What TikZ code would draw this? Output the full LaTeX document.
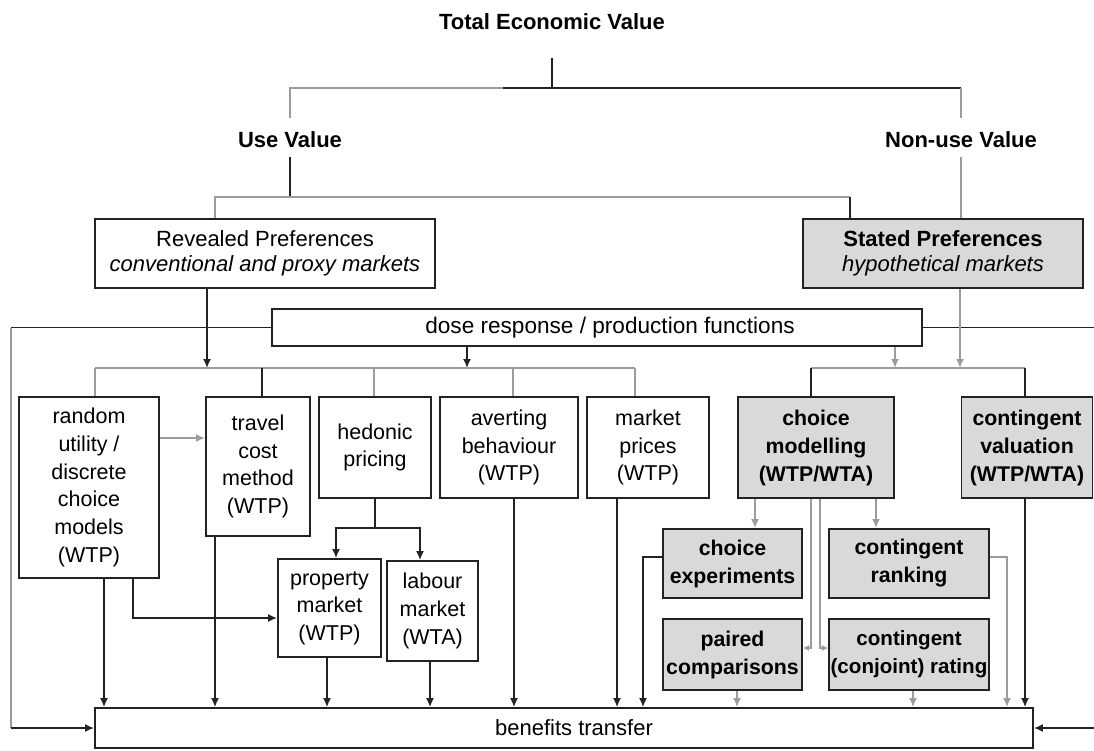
\documentclass[tikz,border=0pt]{standalone}
\usepackage{fontspec}
\setmainfont{Liberation Sans}
\usetikzlibrary{arrows.meta}
\definecolor{lineblack}{HTML}{222222}
\definecolor{linegray}{HTML}{9C9C9C}
\definecolor{spfill}{HTML}{D9D9D9}
\tikzset{
  hd/.style={inner sep=0pt, font=\fontsize{22}{26}\selectfont\bfseries},
  box/.style={draw=lineblack, line width=1.8pt, fill=white, inner sep=0pt, align=center,
    font=\fontsize{21.5}{27.7}\selectfont},
  gbox/.style={box, fill=spfill, font=\fontsize{21.3}{28}\selectfont\bfseries},
  conn/.style={draw=lineblack, line width=1.6pt},
  gconn/.style={draw=linegray, line width=2pt},
  arr/.style={-{Latex[length=9pt,width=8pt]}},
}
\begin{document}
\begin{tikzpicture}[x=1pt,y=-1pt]
\useasboundingbox (0,0) rectangle (1094,750);
% headings
\node[hd] (tev) at (552,22) {Total Economic Value};
\node[hd] (uv) at (290,140) {Use Value};
\node[hd] (nuv) at (961,140) {Non-use Value};
% boxes
\node[box, minimum width=340pt, minimum height=69pt, font=\fontsize{22}{25}\selectfont] (rp) at (265,253.5) {Revealed Preferences\\\textit{conventional and proxy markets}};
\node[gbox, minimum width=280pt, minimum height=69pt, font=\fontsize{22}{25}\selectfont] (sp) at (943,253.5) {\textbf{Stated Preferences}\\\textit{hypothetical markets}};
\node[box, minimum width=650pt, minimum height=37pt, font=\fontsize{22.6}{26}\selectfont] (dose) at (597,327.5) {\hspace*{26pt}dose response / production functions};
\node[box, minimum width=140pt, minimum height=181pt] (ru) at (89,487.5) {random\\utility /\\discrete\\choice\\models\\(WTP)};
\node[box, minimum width=104pt, minimum height=139pt] (tc) at (258,466.5) {travel\\cost\\method\\(WTP)};
\node[box, minimum width=112pt, minimum height=101pt] (hp) at (375,447.5) {hedonic\\pricing};
\node[box, minimum width=138pt, minimum height=101pt] (ab) at (509,447.5) {averting\\behaviour\\(WTP)};
\node[box, minimum width=122pt, minimum height=101pt] (mp) at (648,447.5) {market\\prices\\(WTP)};
\node[gbox, minimum width=156pt, minimum height=101pt] (cm) at (816,447.5) {choice\\modelling\\(WTP/WTA)};
\node[gbox, minimum width=131pt, minimum height=101pt] (cv) at (1027,447.5) {contingent\\valuation\\(WTP/WTA)};
\node[box, minimum width=103pt, minimum height=98pt] (pm) at (329.5,608) {property\\market\\(WTP)};
\node[box, minimum width=91pt, minimum height=100pt] (lm) at (432.5,611) {labour\\market\\(WTA)};
\node[gbox, minimum width=139pt, minimum height=69pt] (ce) at (732.5,563.5) {choice\\experiments};
\node[gbox, minimum width=160pt, minimum height=69pt] (cr) at (909,563.5) {contingent\\ranking};
\node[gbox, minimum width=139pt, minimum height=71pt] (pc) at (732.5,654.5) {paired\\comparisons};
\node[gbox, minimum width=160pt, minimum height=71pt, font=\fontsize{20.6}{28}\selectfont\bfseries] (crat) at (909,654.5) {contingent\\(conjoint) rating};
\node[box, minimum width=938pt, minimum height=40pt, font=\fontsize{22}{26}\selectfont] (bt) at (564,728) {\hspace*{20pt}benefits transfer};
% top tree
\draw[draw=lineblack, line width=1.1pt] (tev.south |- 0,58) -- (tev.south |- 0,88);
\draw[gconn] (uv.south |- 0,118) -- (uv.south |- 0,88) -- (503,88);
\draw[conn] (503,88) -- (nuv.south |- 0,88);
\draw[gconn] (nuv.south |- 0,88) -- (nuv.south |- 0,118);
\draw[draw=lineblack, line width=1.1pt] (uv.south |- 0,157) -- (uv.south |- 0,197);
\draw[gconn] (rp.north -| 215,0) -- (215,197) -- (850,197);
\draw[conn] (850,197) -- (sp.north -| 850,0);
\draw[gconn] (nuv.south |- 0,157) -- (sp.north -| nuv.south);
% dose response side lines
\draw[conn] (dose.west) -- (11,327.5);
\draw[gconn] (11,327.5) -- (11,728);
\draw[conn,arr] (11,728) -- (bt.west);
\draw[conn] (dose.east) -- (1094,327.5);
\draw[conn,arr] (1094,728) -- (bt.east);
% left bus
\draw[conn,arr] (rp.south -| 207,0) -- (207,368);
\draw[conn,arr] (dose.south -| 467,0) -- (467,368);
\draw[gconn] (95,368) -- (635,368);
\draw[gconn] (95,368) -- (ru.north -| 95,0);
\draw[conn] (262,368) -- (tc.north -| 262,0);
\draw[gconn] (374,368) -- (hp.north -| 374,0);
\draw[gconn] (513,368) -- (ab.north -| 513,0);
\draw[gconn] (635,368) -- (mp.north -| 635,0);
% right bus
\draw[gconn] (811,368) -- (1025,368);
\draw[gconn,arr] (dose.south -| 895,0) -- (895,368);
\draw[gconn,arr] (sp.south -| 960,0) -- (960,368);
\draw[conn] (811,368) -- (cm.north -| 811,0);
\draw[conn] (1025,368) -- (cv.north -| 1025,0);
% revealed preference methods
\draw[gconn,arr] (ru.east |- 0,438) -- (tc.west |- 0,438);
\draw[conn,arr] (ru.south -| 104,0) -- (bt.north -| 104,0);
\draw[conn,arr] (ru.south -| 133,0) -- (133,618) -- (pm.west |- 0,618);
\draw[conn,arr] (tc.south -| 215,0) -- (bt.north -| 215,0);
\draw[conn] (hp.south) -- (375,528);
\draw[conn,arr] (375,528) -- (336,528) -- (pm.north -| 336,0);
\draw[conn,arr] (375,528) -- (420,528) -- (lm.north -| 420,0);
\draw[conn,arr] (pm.south -| 327,0) -- (bt.north -| 327,0);
\draw[conn,arr] (lm.south -| 430,0) -- (bt.north -| 430,0);
\draw[conn,arr] (ab.south -| 514,0) -- (bt.north -| 514,0);
\draw[conn,arr] (mp.south -| 617,0) -- (bt.north -| 617,0);
% stated preference methods
\draw[gconn,arr] (cm.south -| 755,0) -- (ce.north -| 755,0);
\draw[gconn,arr] (cm.south -| 876,0) -- (cr.north -| 876,0);
\draw[gconn,-{Latex[length=6pt,width=6pt]}] (cm.south -| 811,0) -- (811,648) -- (pc.east |- 0,648);
\draw[gconn,-{Latex[length=6pt,width=6pt]}] (cm.south -| 820,0) -- (820,648) -- (crat.west |- 0,648);
\draw[conn,arr] (ce.west |- 0,557) -- (643,557) -- (bt.north -| 643,0);
\draw[gconn,arr] (pc.south -| 737,0) -- (bt.north -| 737,0);
\draw[gconn,arr] (crat.south -| 913,0) -- (bt.north -| 913,0);
\draw[gconn,arr] (cr.east |- 0,557) -- (1007,557) -- (bt.north -| 1007,0);
\draw[conn,arr] (cv.south -| 1025,0) -- (bt.north -| 1025,0);
\end{tikzpicture}
\end{document}
